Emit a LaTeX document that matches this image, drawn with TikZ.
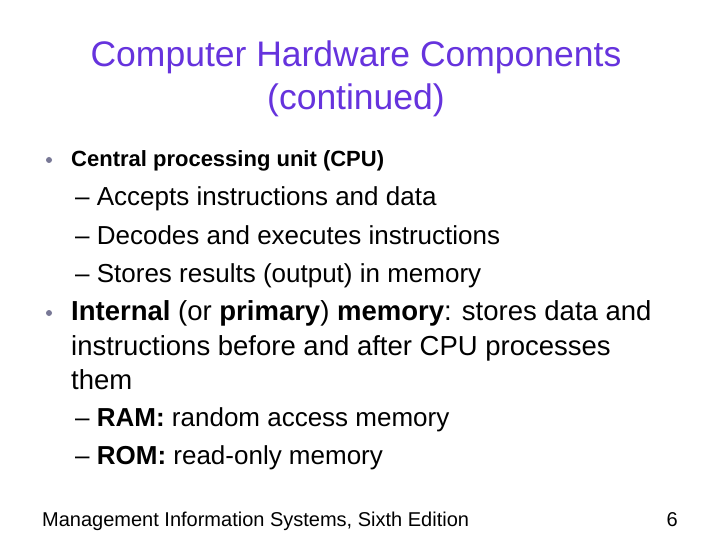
\documentclass[tikz,border=0pt]{standalone}
\usepackage{fontspec}
\setmainfont{Liberation Sans}
\definecolor{ttl}{RGB}{102,51,221}
\definecolor{bul}{RGB}{120,120,150}
\begin{document}
\begin{tikzpicture}[x=1pt,y=-1pt,
  tx/.style={anchor=base west,inner sep=0pt,font=\fontsize{27.5}{32}\selectfont},
  sx/.style={anchor=base west,inner sep=0pt,font=\fontsize{26}{30}\selectfont},
  bl/.style={circle,fill=bul,inner sep=0pt,minimum size=6pt}]
\useasboundingbox[fill=white] (0,0) rectangle (720,540);
\node[anchor=base,inner sep=0pt,text=ttl,font=\fontsize{35.5}{40}\selectfont] (t1) at (356,67) {Computer Hardware Components};
\node[anchor=base,inner sep=0pt,text=ttl,font=\fontsize{35.5}{40}\selectfont] (t2) at (356,110) {(continued)};
\node[bl] (b1) at (49,160) {};
\node[anchor=base west,inner sep=0pt,font=\fontsize{22}{26}\selectfont] (l1) at (71,167) {\textbf{Central processing unit (CPU)}};
\node[sx] (s1) at (75,206) {– Accepts instructions and data};
\node[sx] (s2) at (75,244) {– Decodes and executes instructions};
\node[sx] (s3) at (75,282) {– Stores results (output) in memory};
\node[bl] (b2) at (49,313) {};
\node[tx] (l2) at (71,320) {\textbf{Internal} (or \textbf{primary}) \textbf{memory}: stores data and};
\node[tx] (l3) at (71,355) {instructions before and after CPU processes};
\node[tx] (l4) at (71,389) {them};
\node[sx] (s4) at (75,426) {– \textbf{RAM:} random access memory};
\node[sx] (s5) at (75,464) {– \textbf{ROM:} read-only memory};
\node[anchor=base west,inner sep=0pt,font=\fontsize{20}{24}\selectfont] (f1) at (42,526) {Management Information Systems, Sixth Edition};
\node[anchor=base east,inner sep=0pt,font=\fontsize{20}{24}\selectfont] (f2) at (678,526) {6};
\end{tikzpicture}
\end{document}
